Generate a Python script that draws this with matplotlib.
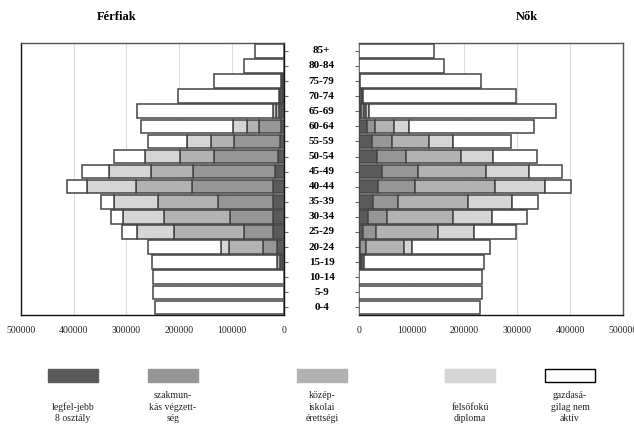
import matplotlib
matplotlib.use("Agg")
import matplotlib.pyplot as plt
from matplotlib.patches import Rectangle
import numpy as np

ages = ['0-4', '5-9', '10-14', '15-19', '20-24', '25-29', '30-34', '35-39', '40-44',
        '45-49', '50-54', '55-59', '60-64', '65-69', '70-74', '75-79', '80-84', '85+']

# Men (bottom to top)
men_max8 = [0, 0, 0, 5000, 13300, 22200, 22200, 22200, 22200, 18400, 12700, 8200, 6300, 6800, 2000, 3000, 0, 0]
men_voc = [0, 0, 0, 3000, 26600, 55100, 81100, 103300, 153300, 154600, 121600, 86900, 41900, 3800, 3000, 1500, 0, 0]
men_sec = [0, 0, 0, 5000, 65300, 131800, 125500, 113400, 106500, 79200, 63400, 44900, 22100, 5100, 3000, 1000, 0, 0]
men_high = [0, 0, 0, 0, 14600, 69700, 77900, 84300, 91900, 81100, 65900, 44400, 27300, 6300, 1500, 500, 0, 0]
men_inact = [245000, 249000, 249000, 239000, 138700, 29200, 22200, 24700, 39300, 50100, 59000, 73500,
             173600, 257000, 191500, 127000, 76000, 56400]

# Women (bottom to top)
wom_max8 = [0, 0, 0, 3800, 3200, 8200, 17700, 26500, 37200, 43500, 35300, 24600, 16400, 5000, 3000, 2500, 0, 0]
wom_voc = [0, 0, 0, 3100, 10000, 25200, 35900, 47900, 68700, 69400, 54200, 39100, 15100, 4700, 2500, 0, 0, 0]
wom_sec = [0, 0, 0, 3100, 72500, 117300, 124200, 132400, 151300, 128600, 103400, 68700, 36000, 4800, 2000, 0, 0, 0]
wom_high = [0, 0, 0, 0, 15200, 67500, 75000, 83900, 94600, 80700, 61800, 46700, 27100, 5000, 0, 0, 0, 0]
wom_inact = [230100, 233900, 233300, 227700, 146900, 78800, 66200, 49100, 49200, 61800, 82000, 109700,
             237700, 353500, 290500, 228500, 162000, 142000]

legend_labels = ['legfel-jebb\n8 osztály', 'szakmun-\nkás végzett-\nség', 'közép-\niskolai\nérettségi',
                 'felsőfokú\ndiploma', 'gazdasá-\ngilag nem\naktív']
colors = ['#5a5a5a', '#969696', '#b2b2b2', '#d5d5d5', '#ffffff']
edge = '#444444'
plt.rcParams['font.family'] = ['Liberation Serif', 'DejaVu Serif']

fig = plt.figure(figsize=(6.34, 4.25), dpi=100)
W, H = 634, 425
axL = fig.add_axes([21 / W, 1 - 315 / H, (284.3 - 21) / W, (315 - 43.3) / H])
axR = fig.add_axes([358.7 / W, 1 - 315 / H, (623 - 358.7) / W, (315 - 43.3) / H])

y = np.arange(len(ages))


def draw(ax, series):
    left = np.zeros(len(ages))
    for vals, c in zip(series, colors):
        vals = np.array(vals, dtype=float)
        lw = np.where(vals > 0, 1.1, 0.0)
        ax.barh(y, vals, left=left, height=0.9, color=c, edgecolor=edge, linewidth=lw, zorder=3)
        left += vals


draw(axL, [men_max8, men_voc, men_sec, men_high, men_inact])
draw(axR, [wom_max8, wom_voc, wom_sec, wom_high, wom_inact])

ticks = [0, 100000, 200000, 300000, 400000, 500000]
for ax in (axL, axR):
    ax.set_ylim(-0.5, len(ages) - 0.5)
    ax.set_xticks(ticks)
    ax.set_xticklabels([str(t) for t in ticks], fontsize=7, color='#222222')
    ax.tick_params(axis='x', length=0, pad=8)
    ax.grid(axis='x', color='#dddddd', linewidth=0.8, zorder=0)
    ax.set_yticks(y)
    for s in ax.spines.values():
        s.set_color('#555555')
        s.set_linewidth(1.0)
    ax.spines['bottom'].set_color('#111111')

axL.set_xlim(500000, 0)
axR.set_xlim(0, 500000)
axL.yaxis.tick_right()
axL.tick_params(axis='y', direction='out', length=3, color='#666666', labelright=False)
axR.tick_params(axis='y', direction='out', length=3, color='#666666', labelleft=False)
axL.spines['left'].set_color('#111111')
axL.spines['right'].set_color('#111111')

# age labels between panels
for yi, lab in zip(y, ages):
    axR.text(-0.14, yi, lab, transform=axR.get_yaxis_transform(), ha='center', va='center',
             fontsize=8, fontweight='bold', clip_on=False)

fig.text(117 / W, 1 - 17 / H, 'Férfiak', ha='center', va='center', fontsize=9, fontweight='bold')
fig.text(527 / W, 1 - 17 / H, 'Nők', ha='center', va='center', fontsize=9, fontweight='bold')

# legend
centers = [73, 173, 322, 470, 570]
for cx, c, lab in zip(centers, colors, legend_labels):
    ec = '#000000' if c == '#ffffff' else c
    fig.patches.append(Rectangle(((cx - 25) / W, 1 - 382 / H), 50 / W, 13 / H, transform=fig.transFigure,
                                 facecolor=c, edgecolor=ec, linewidth=1.0))
    fig.text(cx / W, 1 - 423 / H, lab, ha='center', va='bottom', fontsize=7, linespacing=1.35,
             color='#222222')

fig.savefig('out.png', dpi=100)
